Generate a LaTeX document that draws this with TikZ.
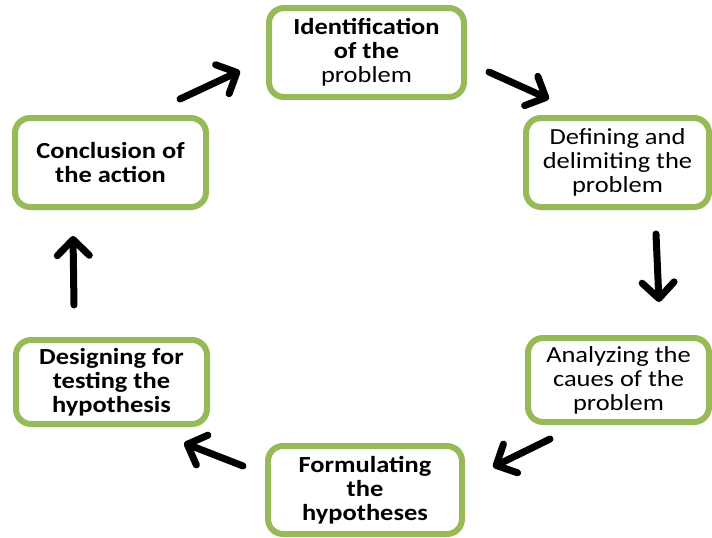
\documentclass[tikz,border=0pt]{standalone}
\usepackage{fontspec}
\setmainfont{Carlito}[FakeStretch=1.15]
\usetikzlibrary{positioning, arrows.meta}

\definecolor{boxgreen}{RGB}{152,185,88}

\tikzset{
	stage/.style={draw=boxgreen, line width=6pt, rounded corners=15pt, fill=white,
		align=center, font=\fontsize{23}{24}\selectfont, inner sep=2pt},
	flow/.style={line width=7pt, line cap=round,
		-{Straight Barb[length=16pt, width=32pt, round]}}
}

\begin{document}
\begin{tikzpicture}[x=1pt, y=-1pt]
			\useasboundingbox (0,0) rectangle (712,538);

			\node (ident) at (366.5,52.5) [stage, minimum width=195pt, minimum height=89pt] {\textbf{Identification}\\\textbf{of the}\\problem};
			\node (defin) at (617.5,162.5) [stage, minimum width=183pt, minimum height=89pt] {Defining and\\delimiting the\\problem};
			\node (analy) at (618.5,380) [stage, minimum width=181pt, minimum height=84pt] {Analyzing the\\caues of the\\problem};
			\node (formu) at (365,490) [stage, minimum width=194pt, minimum height=88pt] {\textbf{Formulating}\\\textbf{the}\\\textbf{hypotheses}};
			\node (design) at (111.5,382) [stage, minimum width=191pt, minimum height=84pt] {\textbf{Designing for}\\\textbf{testing the}\\\textbf{hypothesis}};
			\node (concl) at (110.5,162.5) [stage, minimum width=191pt, minimum height=89pt] {\textbf{Conclusion of}\\\textbf{the action}};

			% arrow ends
			\coordinate (a1) at (180,99);
			\coordinate (b1) at (240,71);
			\coordinate (a2) at (489,72);
			\coordinate (b2) at (549,99);
			\coordinate (a3) at (656,234);
			\coordinate (b3) at (659,302);
			\coordinate (a4) at (550,439);
			\coordinate (b4) at (493,467);
			\coordinate (a5) at (243,466);
			\coordinate (b5) at (184,443);
			\coordinate (a6) at (74,305);
			\coordinate (b6) at (73,236);

			\draw[flow] (a1) -- (b1);
			\draw[flow] (a2) -- (b2);
			\draw[flow] (a3) -- (b3);
			\draw[flow] (a4) -- (b4);
			\draw[flow] (a5) -- (b5);
			\draw[flow] (a6) -- (b6);
		\end{tikzpicture}
\end{document}
